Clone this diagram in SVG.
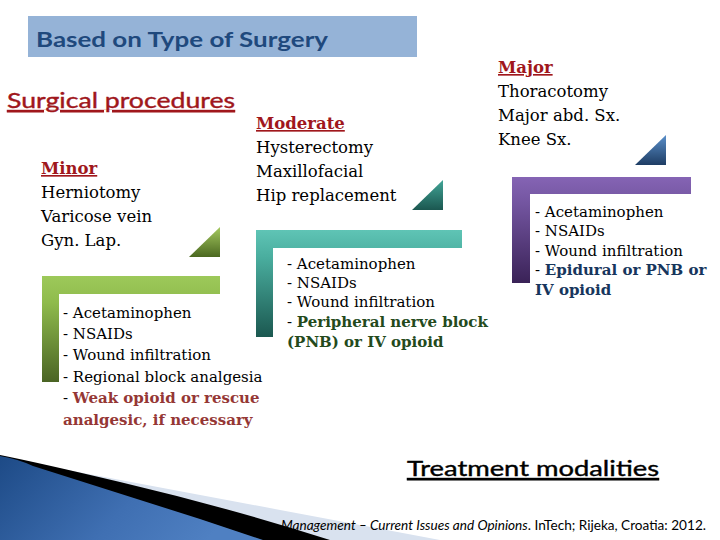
<svg xmlns="http://www.w3.org/2000/svg" width="720" height="540" viewBox="0 0 720 540">
<defs>
<style>
.sans{font-family:Lato,"Open Sans","Liberation Sans",sans-serif}
.serif{font-family:"DejaVu Serif","Liberation Serif",serif;font-size:16.5px;fill:#000}
.lbl{font-weight:bold;fill:#a0171c;text-decoration:underline}
.list{font-family:"DejaVu Serif","Liberation Serif",serif;font-size:15px;fill:#000}
.b{font-weight:bold}
.red{fill:#953735}
.grn{fill:#244a1c}
.nav{fill:#17365d}
</style>
<linearGradient id="gL" x1="0" y1="0" x2="0" y2="1"><stop offset="0" stop-color="#9dc95a"/><stop offset="0.25" stop-color="#8fbb4c"/><stop offset="1" stop-color="#4a6424"/></linearGradient>
<linearGradient id="gT" x1="0" y1="0" x2="0" y2="1"><stop offset="0" stop-color="#a4c95f"/><stop offset="1" stop-color="#4b6820"/></linearGradient>
<linearGradient id="tL" x1="0" y1="0" x2="0" y2="1"><stop offset="0" stop-color="#5fc4b5"/><stop offset="0.25" stop-color="#4aae9f"/><stop offset="1" stop-color="#1b5850"/></linearGradient>
<linearGradient id="tT" x1="0" y1="0" x2="0" y2="1"><stop offset="0" stop-color="#42a597"/><stop offset="1" stop-color="#1b5750"/></linearGradient>
<linearGradient id="pL" x1="0" y1="0" x2="0" y2="1"><stop offset="0" stop-color="#8564b4"/><stop offset="0.25" stop-color="#7355a0"/><stop offset="1" stop-color="#3a2257"/></linearGradient>
<linearGradient id="bT" x1="0" y1="0" x2="0" y2="1"><stop offset="0" stop-color="#5a8fca"/><stop offset="1" stop-color="#1e3d64"/></linearGradient>
<linearGradient id="sw" x1="0" y1="0" x2="1" y2="0.3"><stop offset="0" stop-color="#1d4a86"/><stop offset="0.6" stop-color="#3f6fb2"/><stop offset="1" stop-color="#4f80c2"/></linearGradient>
</defs>
<rect width="720" height="540" fill="#fff"/>

<g id="title">
<rect x="28" y="16" width="389" height="41" fill="#95b3d7"/>
<text class="sans" x="36" y="47" font-size="21" font-weight="bold" fill="#1f497d" textLength="292" lengthAdjust="spacingAndGlyphs">Based on Type of Surgery</text>
</g>

<g id="surgical-procedures">
<text class="sans" x="7" y="108" font-size="22" fill="#a0171c" stroke="#a0171c" stroke-width="0.4" text-decoration="underline" textLength="228" lengthAdjust="spacingAndGlyphs">Surgical procedures</text>
</g>

<g id="node-minor">
<text class="serif lbl" x="41" y="174">Minor</text>
<text class="serif" x="41" y="198">Herniotomy</text>
<text class="serif" x="41" y="222">Varicose vein</text>
<text class="serif" x="41" y="246">Gyn. Lap.</text>
<polygon points="189,257 220,227 220,257" fill="url(#gT)"/>
<path d="M42,276 H220 V294 H59 V382 H42 Z" fill="url(#gL)"/>
<text class="list" x="63" y="318">- Acetaminophen</text>
<text class="list" x="63" y="339">- NSAIDs</text>
<text class="list" x="63" y="360">- Wound infiltration</text>
<text class="list" x="63" y="382">- Regional block analgesia</text>
<text class="list" x="63" y="403">- <tspan class="b red">Weak opioid or rescue</tspan></text>
<text class="list b red" x="63" y="425">analgesic, if necessary</text>
</g>

<g id="node-moderate">
<text class="serif lbl" x="256" y="129">Moderate</text>
<text class="serif" x="256" y="153">Hysterectomy</text>
<text class="serif" x="256" y="177">Maxillofacial</text>
<text class="serif" x="256" y="201">Hip replacement</text>
<polygon points="412,210 443,180 443,210" fill="url(#tT)"/>
<path d="M256,230 H462 V248 H273 V337 H256 Z" fill="url(#tL)"/>
<text class="list" x="287" y="269">- Acetaminophen</text>
<text class="list" x="287" y="288">- NSAIDs</text>
<text class="list" x="287" y="307">- Wound infiltration</text>
<text class="list" x="287" y="327">- <tspan class="b grn">Peripheral nerve block</tspan></text>
<text class="list b grn" x="287" y="347">(PNB) or IV opioid</text>
</g>

<g id="node-major">
<text class="serif lbl" x="498" y="73">Major</text>
<text class="serif" x="498" y="97">Thoracotomy</text>
<text class="serif" x="498" y="121">Major abd. Sx.</text>
<text class="serif" x="498" y="145">Knee Sx.</text>
<polygon points="635,165 666,135 666,165" fill="url(#bT)"/>
<path d="M512,177 H691 V194 H530 V283 H512 Z" fill="url(#pL)"/>
<text class="list" x="535" y="217">- Acetaminophen</text>
<text class="list" x="535" y="236">- NSAIDs</text>
<text class="list" x="535" y="256">- Wound infiltration</text>
<text class="list" x="535" y="275">- <tspan class="b nav">Epidural or PNB or</tspan></text>
<text class="list b nav" x="535" y="295">IV opioid</text>
</g>

<g id="treatment-modalities">
<text class="sans" x="407" y="476" font-size="22" fill="#000" stroke="#000" stroke-width="0.4" text-decoration="underline" textLength="252" lengthAdjust="spacingAndGlyphs">Treatment modalities</text>
</g>

<g id="swoosh">
<path d="M30,463 Q200,495 440,540 L0,540 Z" fill="#d9e2ef"/>
<path d="M0,455 Q40,463 120,482 Q230,508 330,540 L0,540 Z" fill="#000"/>
<path d="M0,456 Q18,459 33,466 L200,519 L263,540 L0,540 Z" fill="url(#sw)"/>
</g>

<g id="citation">
<text class="sans" x="281" y="530" font-size="13" fill="#000" textLength="425" lengthAdjust="spacingAndGlyphs"><tspan font-style="italic">Management – Current Issues and Opinions</tspan>. InTech; Rijeka, Croatia: 2012.</text>
</g>
</svg>
